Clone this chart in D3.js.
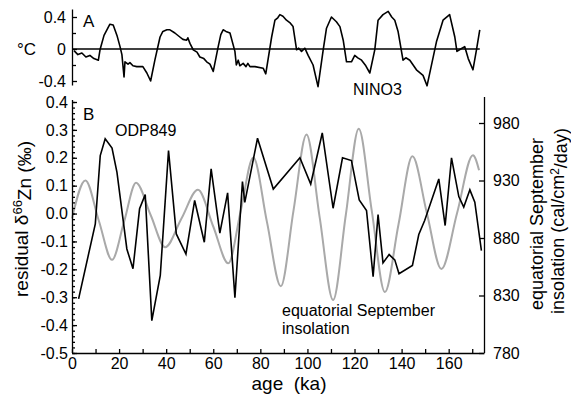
<!DOCTYPE html>
<html><head><meta charset="utf-8">
<script src="https://cdn.jsdelivr.net/npm/d3@7"></script>
<style>
body{margin:0;background:#fff}
svg{display:block}
text{font-family:"Liberation Sans",Arial,Helvetica,sans-serif;fill:#000}
</style>
</head><body>
<svg id="c" width="571" height="394"></svg>
<script>
// ---- data ----
const ninoAge = [0.85,2.5,4.2,5.9,7.6,9.3,11.2,11.9,13.6,16.1,17.5,19.1,20.4,21.2,22.1,22.5,23.8,24.6,25.9,27.5,28.9,30.1,31.8,33.4,35.2,37.4,38.6,40.3,41.6,43.7,45.8,47.1,48.7,49.2,50.1,51.5,53.1,54.3,56.0,57.2,58.6,60.0,62.1,63.2,64.2,65.4,67.1,69.2,69.8,70.6,71.3,72.7,73.9,74.7,75.6,77.7,81.2,82.3,84.8,86.2,87.4,88.3,89.6,91.1,92.5,93.9,95.4,96.3,97.5,98.9,100.3,102.4,104.5,106.7,108.1,110.2,112.3,113.8,115.2,116.6,118.7,120.1,121.4,123.0,124.8,126.5,128.6,130.0,132.1,134.3,135.8,137.1,138.5,140.6,141.8,143.5,146.3,149.1,150.8,154.8,157.6,160.4,162.6,163.5,165.1,166.8,168.3,170.3,171.8,173.2];
const nino3 = [-0.02,-0.07,-0.05,-0.10,-0.08,-0.12,-0.14,-0.01,0.17,0.31,0.30,0.17,0.03,-0.07,-0.35,-0.16,-0.19,-0.17,-0.21,-0.22,-0.22,-0.22,-0.30,-0.40,-0.14,0.15,0.22,0.24,0.24,0.20,0.15,0.12,0.11,0.14,0.07,-0.01,-0.04,-0.10,-0.12,-0.16,-0.19,-0.28,0.03,0.18,0.24,0.22,0.20,-0.03,-0.20,-0.14,-0.21,-0.18,-0.22,-0.18,-0.22,-0.22,-0.24,-0.31,0.15,0.36,0.39,0.43,0.41,0.36,0.33,0.28,-0.01,0.01,-0.03,0.01,-0.08,-0.20,-0.47,-0.01,0.26,0.40,0.34,0.28,0.11,-0.16,-0.16,-0.08,-0.11,-0.14,-0.21,-0.30,-0.01,0.36,0.43,0.47,0.40,0.36,0.22,-0.14,-0.11,-0.14,-0.26,-0.33,-0.46,0.09,0.36,0.43,0.15,-0.03,0.00,0.03,-0.12,-0.26,-0.01,0.24];

const odpAge = [2.8,9.9,12.0,14.1,17.0,19.1,23.3,25.9,28.7,31.1,33.9,37.5,41.0,44.3,48.4,52.1,56.2,59.1,62.8,66.1,69.2,72.4,73.4,78.8,85.5,96.8,101.4,106.3,110.9,114.9,118.7,122.0,125.1,127.9,130.0,132.1,134.7,137.1,138.9,144.6,147.3,149.8,155.8,158.5,161.2,164.3,166.4,169.0,171.1,173.9];
const odpZn = [-0.306,-0.037,0.208,0.268,0.235,0.148,-0.127,-0.198,0.017,0.068,-0.384,-0.222,0.226,-0.073,-0.145,0.047,-0.103,0.160,-0.07,0.074,-0.302,0.115,0.04,0.27,0.088,0.20,0.106,0.289,0.019,0.20,0.19,0.049,0.011,-0.226,-0.004,-0.177,-0.147,-0.166,-0.216,-0.186,-0.075,-0.025,0.124,-0.043,0.20,0.061,0.023,0.085,0.041,-0.133];

const insolAge = [0,5.7,11.4,17.0,22.1,27.2,33.4,39.6,46.5,53.5,60.0,66.4,71.7,77.0,82.8,88.7,94.1,99.6,105.2,110.9,116.3,121.8,127.3,132.9,138.7,144.6,150.7,156.9,163.6,170.3,172.9];
const insol = [897,930,895,861,894,928,900,872,897,922,890,858,904,950,894,838,904,970,898,826,900,975,904,833,892,951,902,853,902,952,939];

const xTicks = [0,10,20,30,40,50,60,70,80,90,100,110,120,130,140,150,160,170];
const xLabels = [0,20,40,60,80,100,120,140,160];
const aTicks = [-0.4,0,0.4];
const aMinor = [-0.2,0.2];
const bTicks = [-0.5,-0.4,-0.3,-0.2,-0.1,0,0.1,0.2,0.3,0.4];
const bMinor = d3.range(-50,41,2).map(v=>v/100);
const rTicks = [780,830,880,930,980];

// ---- scales ----
const svg = d3.select("#c");
const x = d3.scaleLinear([0,175],[72,484]);
const yA = d3.scaleLinear([-0.45,0.5],[85,9]);
const yB = d3.scaleLinear([-0.5,0.4],[353,102]);
const yR = d3.scaleLinear([780,1000],[353,100]);
const FS = "16px";
const fmt = d => d===0 ? "0" : d.toFixed(1);

function style(g){
  g.attr("font-size",FS).attr("font-family",null);
  g.selectAll("path,line").attr("stroke","#000").attr("stroke-width",1.3);
  g.selectAll("text").attr("fill","#000");
}

// ---- Panel A ----
svg.append("g").attr("transform","translate(72,0)")
  .call(d3.axisLeft(yA).tickValues(aTicks).tickFormat(fmt).tickSize(-5).tickSizeOuter(0).tickPadding(6))
  .call(style);
svg.append("g").attr("transform","translate(72,0)")
  .call(d3.axisLeft(yA).tickValues(aMinor).tickFormat("").tickSize(-4).tickSizeOuter(0))
  .call(style).select(".domain").remove();

svg.append("line").attr("x1",x(0)).attr("x2",x(ninoAge[ninoAge.length-1]))
  .attr("y1",yA(0)).attr("y2",yA(0)).attr("stroke","#000").attr("stroke-width",1.5);

svg.append("path").datum(ninoAge.map((a,i)=>[a,nino3[i]]))
  .attr("fill","none").attr("stroke","#000").attr("stroke-width",1.6).attr("stroke-linejoin","round")
  .attr("d",d3.line().x(d=>x(d[0])).y(d=>yA(d[1])));

svg.append("text").attr("x",83).attr("y",27).attr("font-size","17px").text("A");
svg.append("text").attr("x",17).attr("y",55).attr("font-size","17px").text("°C");
svg.append("text").attr("x",353).attr("y",95).attr("font-size","16px").text("NINO3");

// ---- Panel B ----
// insolation (grey)
svg.append("path").datum(insolAge.map((a,i)=>[a,insol[i]]))
  .attr("fill","none").attr("stroke","#a9a9a9").attr("stroke-width",2)
  .attr("d",d3.line().curve(d3.curveMonotoneX).x(d=>x(d[0])).y(d=>yR(d[1])));
// ODP849 (black)
svg.append("path").datum(odpAge.map((a,i)=>[a,odpZn[i]]))
  .attr("fill","none").attr("stroke","#000").attr("stroke-width",1.6).attr("stroke-linejoin","miter")
  .attr("d",d3.line().x(d=>x(d[0])).y(d=>yB(d[1])));

// left axis
const gL = svg.append("g").attr("transform","translate(72,0)")
  .call(d3.axisLeft(yB).tickValues(bTicks).tickFormat(d=>d.toFixed(1)).tickSize(-5).tickSizeOuter(0).tickPadding(4))
  .call(style);
gL.select(".domain").attr("d","M0.5,353V100");
svg.append("g").attr("transform","translate(72,0)")
  .call(d3.axisLeft(yB).tickValues(bMinor).tickFormat("").tickSize(-3).tickSizeOuter(0))
  .call(style).select(".domain").remove();

// right axis
const gR = svg.append("g").attr("transform","translate(484,0)")
  .call(d3.axisRight(yR).tickValues(rTicks).tickSize(-5).tickSizeOuter(0).tickPadding(9))
  .call(style);
gR.select(".domain").attr("d","M0.5,353V97");

// bottom axis
svg.append("g").attr("transform","translate(0,353)")
  .call(d3.axisBottom(x).tickValues(xTicks).tickFormat(d=>xLabels.includes(d)?d:"").tickSize(-4).tickSizeOuter(0).tickPadding(5))
  .call(style);

svg.append("text").attr("x",83).attr("y",120).attr("font-size","17px").text("B");
svg.append("text").attr("x",115).attr("y",136).attr("font-size","16px").text("ODP849");
svg.append("text").attr("x",282).attr("y",316).attr("font-size","16px").text("equatorial September");
svg.append("text").attr("x",282).attr("y",334).attr("font-size","16px").text("insolation");

// axis titles
svg.append("text").attr("x",289).attr("y",390).attr("text-anchor","middle").attr("font-size","19px")
  .attr("xml:space","preserve").text("age  (ka)");

const tl = svg.append("text").attr("transform","translate(28,219) rotate(-90)").attr("text-anchor","middle").attr("font-size","19px");
tl.append("tspan").text("residual δ");
tl.append("tspan").attr("dy","-0.45em").attr("font-size","13px").text("66");
tl.append("tspan").attr("dy","0.45em").text("Zn (‰)");

const tr1 = svg.append("text").attr("transform","translate(543,224) rotate(-90)").attr("text-anchor","middle").attr("font-size","18px");
tr1.text("equatorial September");
const tr2 = svg.append("text").attr("transform","translate(564,221) rotate(-90)").attr("text-anchor","middle").attr("font-size","18px");
tr2.append("tspan").text("insolation (cal/cm");
tr2.append("tspan").attr("dy","-0.45em").attr("font-size","12px").text("2");
tr2.append("tspan").attr("dy","0.45em").text("/day)");
</script>
</body></html>
